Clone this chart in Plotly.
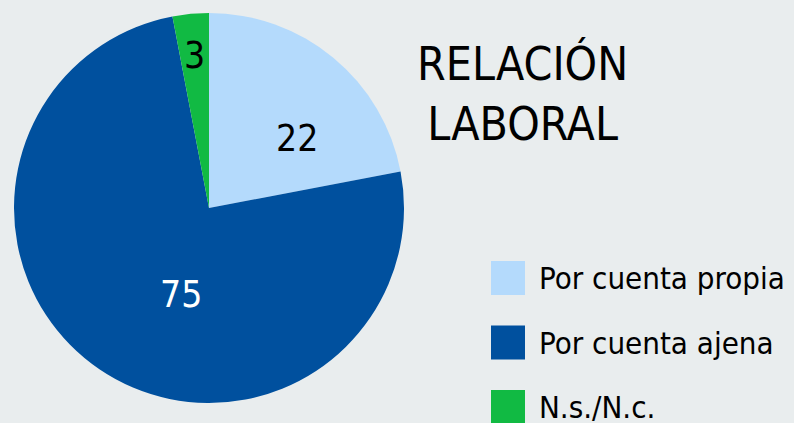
import math
import plotly.graph_objects as go

categories = ["Por cuenta propia", "Por cuenta ajena", "N.s./N.c."]
values = [22, 75, 3]
colors = ["#B4DAFC", "#00509E", "#11BA43"]
text_colors = ["black", "white", "black"]
title_lines = ["RELACIÓN", "LABORAL"]

# label placement style (radius fraction, angular shift in degrees)
label_rfrac = [0.576, 0.464, 0.788]
label_shift = [11.9, -16.2, -0.2]

W, H = 794, 423
FONT = "DejaVu Sans Condensed"
CX, CY, R = 209, 208, 195

fig = go.Figure()
fig.add_trace(go.Pie(
    labels=categories, values=values,
    marker=dict(colors=colors, line=dict(width=0)),
    sort=False, direction="clockwise", rotation=0,
    textinfo="none",
    domain=dict(x=[(CX - R) / W, (CX + R) / W], y=[(H - CY - R) / H, (H - CY + R) / H]),
    showlegend=False, hoverinfo="label+value",
))

# value labels positioned from the data's angles
total = sum(values)
cum = 0
for v, tc, rf, sh in zip(values, text_colors, label_rfrac, label_shift):
    mid = (cum + v / 2) / total * 360 + sh
    cum += v
    a = math.radians(mid)
    px = CX + rf * R * math.sin(a)
    py = CY - rf * R * math.cos(a)
    fig.add_annotation(text=str(v), x=px / W, y=1 - py / H, xref="paper", yref="paper",
                       xanchor="center", yanchor="middle", showarrow=False,
                       font=dict(family=FONT, size=37, color=tc))

# title
fig.add_annotation(text="<br>".join(title_lines), x=522 / W, y=1 - 35 / H,
                   xref="paper", yref="paper", xanchor="center", yanchor="top",
                   showarrow=False, font=dict(family=FONT, size=46, color="black"))

# custom legend with large swatches
for i, (cat, col) in enumerate(zip(categories, colors)):
    top = 261 + i * 64.5
    fig.add_shape(type="rect", xref="paper", yref="paper",
                  x0=491 / W, x1=525 / W, y0=1 - (top + 34) / H, y1=1 - top / H,
                  fillcolor=col, line=dict(width=0))
    fig.add_annotation(text=cat, x=537 / W, y=1 - (top + 17) / H,
                       xref="paper", yref="paper", xanchor="left", yanchor="middle",
                       showarrow=False, font=dict(family=FONT, size=31, color="black"))

fig.update_layout(
    width=W, height=H, margin=dict(l=0, r=0, t=0, b=0),
    paper_bgcolor="#E9EDEE", plot_bgcolor="#E9EDEE",
)
fig.write_html("out.html", config={"displayModeBar": False},
               post_script="document.body.style.margin='0';document.body.style.overflow='hidden';")
